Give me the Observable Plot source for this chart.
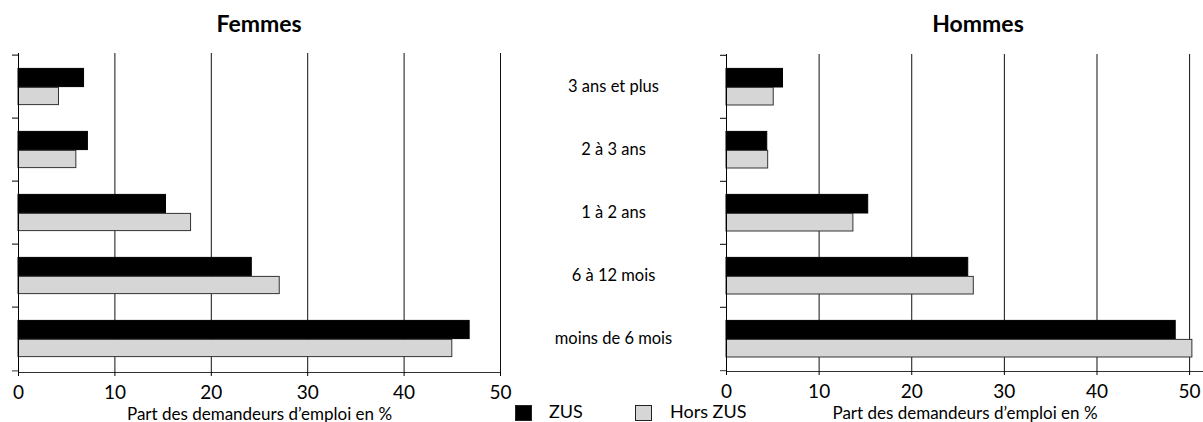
<!DOCTYPE html>
<html>
<head>
<meta charset="utf-8">
<script src="https://cdn.jsdelivr.net/npm/d3@7"></script>
<script src="https://cdn.jsdelivr.net/npm/@observablehq/plot@0.6"></script>
<style>
  html, body { margin: 0; padding: 0; background: #fff; }
  #root { position: relative; width: 1203px; height: 422px; overflow: hidden; font-family: Lato, "Noto Sans", sans-serif; color: #000; }
  .panel { position: absolute; top: 0; }
  .title { position: absolute; font-weight: bold; font-size: 23px; transform: translateX(-50%); white-space: nowrap; }
  .leg { position: absolute; font-size: 18px; line-height: 20px; white-space: nowrap; }
  .sw { position: absolute; width: 17px; height: 16px; box-sizing: border-box; border: 1px solid #222; }
</style>
</head>
<body>
<div id="root"></div>
<script>
const categories = ["3 ans et plus", "2 à 3 ans", "1 à 2 ans", "6 à 12 mois", "moins de 6 mois"];
const series = ["ZUS", "Hors ZUS"];
const seriesColors = ["#000000", "#d6d6d6"];
const femmesZUS = [6.8, 7.2, 15.3, 24.2, 46.8];
const femmesHors = [4.2, 6.0, 17.9, 27.1, 45.0];
const hommesZUS = [6.1, 4.4, 15.3, 26.1, 48.5];
const hommesHors = [5.1, 4.5, 13.7, 26.7, 50.3];
const xTicks = [0, 10, 20, 30, 40, 50];
const axisLabel = "Part des demandeurs d’emploi en %";

const font = 'Lato, "Noto Sans", sans-serif';

function rows(zus, hors) {
  const out = [];
  categories.forEach((c, i) => {
    out.push({cat: c, serie: series[0], value: zus[i]});
    out.push({cat: c, serie: series[1], value: hors[i]});
  });
  return out;
}

function panel({data, width, marginLeft, marginRight, marginTop, marginBottom, xmax, withLabels}) {
  const height = 422;
  const step = (height - marginTop - marginBottom) / categories.length;
  const top1 = 13.4, mid = 32.4, bot2 = step - 50.4;
  const marks = [
    Plot.gridX({ticks: xTicks.slice(1), stroke: "#111", strokeOpacity: 1, strokeWidth: 1}),
    Plot.barX(data.filter(d => d.serie === series[0]), {
      y: "cat", x: "value", fill: seriesColors[0], stroke: "#000", strokeWidth: 1,
      insetTop: top1, insetBottom: step - mid
    }),
    Plot.barX(data.filter(d => d.serie === series[1]), {
      y: "cat", x: "value", fill: seriesColors[1], stroke: "#333", strokeWidth: 1,
      insetTop: mid, insetBottom: bot2
    }),
    Plot.ruleX([0], {stroke: "#000"}),
    Plot.frame({anchor: "bottom", stroke: "#333"}),
    Plot.axisY({tickFormat: null, tickSize: 6, dy: -step / 2, stroke: "#000"}),
    Plot.axisY({ticks: [categories[categories.length - 1]], tickFormat: null, tickSize: 6, dy: step / 2, stroke: "#333"}),
    Plot.axisX({ticks: xTicks, tickSize: 4, tickPadding: 9, fontSize: 19, label: null}),
    Plot.text([axisLabel], {frameAnchor: "bottom", dy: 47, lineAnchor: "bottom", fontSize: 17})
  ];
  if (withLabels) {
    marks.push(Plot.text(categories, {y: d => d, text: d => d, frameAnchor: "right", dx: 113, textAnchor: "middle", fontSize: 16.5}));
  }
  return Plot.plot({
    width, height, marginLeft, marginRight, marginTop, marginBottom,
    style: {fontFamily: font, background: "transparent", overflow: "visible"},
    x: {domain: [0, xmax], label: null},
    y: {domain: categories, padding: 0, label: null, axis: null},
    marks
  });
}

const root = document.getElementById("root");

const left = panel({data: rows(femmesZUS, femmesHors), width: 726, marginLeft: 18, marginRight: 226, marginTop: 53, marginBottom: 50, xmax: 50, withLabels: true});
left.classList.add("panel");
left.style.left = "0px";
root.appendChild(left);

const right = panel({data: rows(hommesZUS, hommesHors), width: 495, marginLeft: 18, marginRight: 0, marginTop: 54, marginBottom: 51, xmax: 51.5, withLabels: false});
right.classList.add("panel");
right.style.left = "708px";
root.appendChild(right);

// Titles
[["Femmes", 259], ["Hommes", 978]].forEach(([t, cx]) => {
  const d = document.createElement("div");
  d.className = "title";
  d.textContent = t;
  d.style.left = cx + "px";
  d.style.top = "9px";
  root.appendChild(d);
});

// Legend
const legPos = [[515, 549], [635, 670]];
series.forEach((s, i) => {
  const sw = document.createElement("div");
  sw.className = "sw";
  sw.style.left = legPos[i][0] + "px";
  sw.style.top = "405px";
  sw.style.background = seriesColors[i];
  root.appendChild(sw);
  const t = document.createElement("div");
  t.className = "leg";
  t.textContent = s;
  t.style.left = legPos[i][1] + "px";
  t.style.top = "401px";
  root.appendChild(t);
});
</script>
</body>
</html>
